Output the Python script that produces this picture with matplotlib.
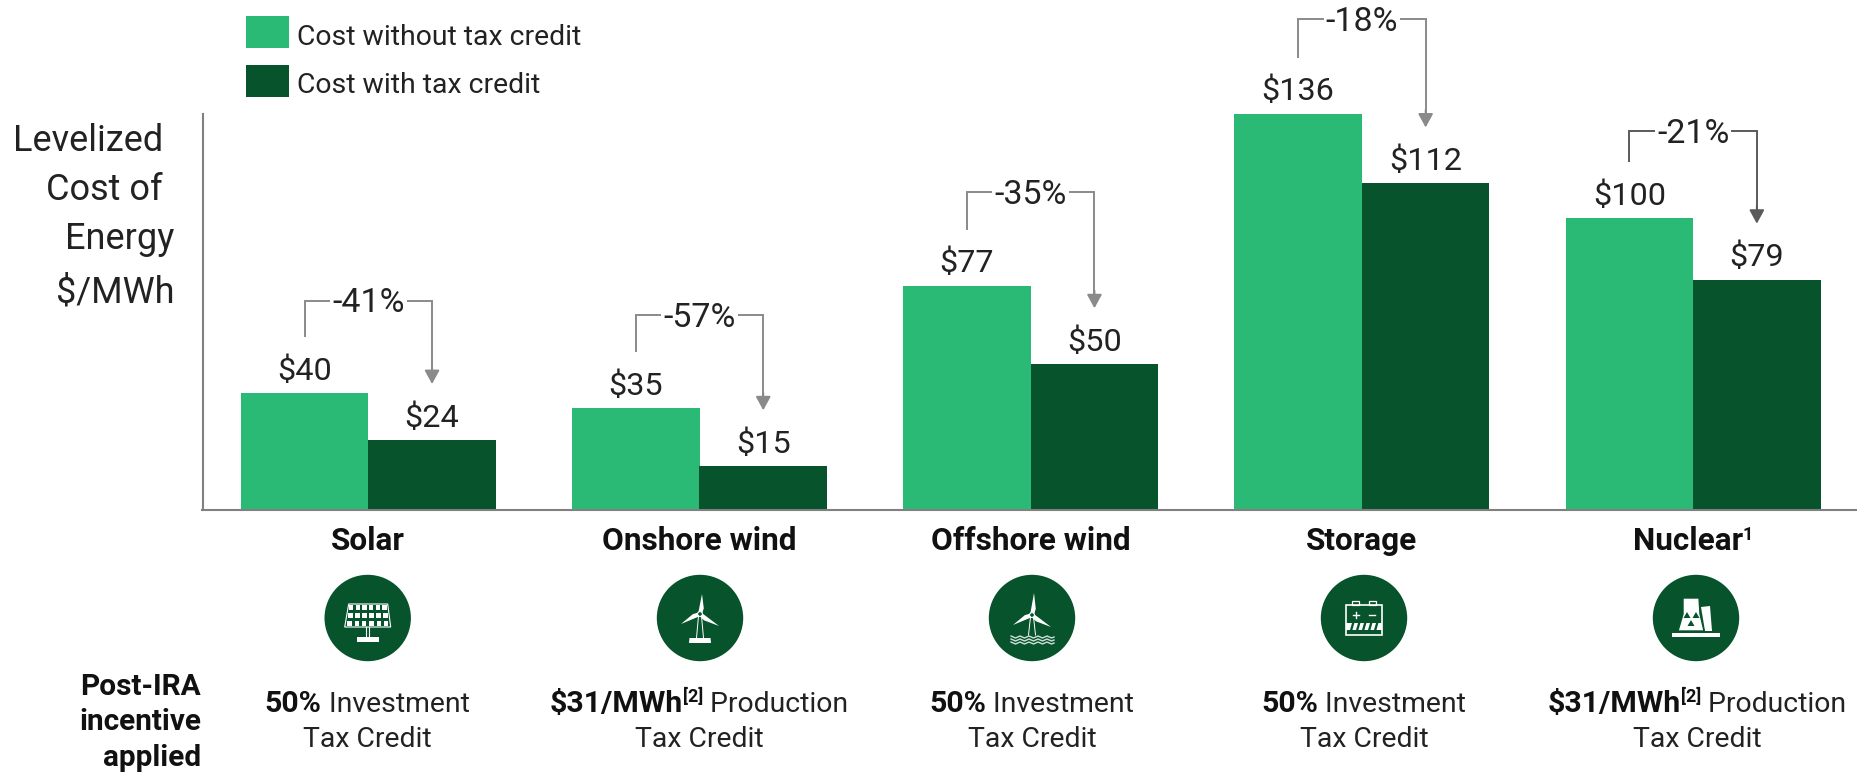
import numpy as np
import matplotlib
matplotlib.use("Agg")
import matplotlib.pyplot as plt
from matplotlib.patches import Circle, Rectangle, Polygon

categories = ["Solar", "Onshore wind", "Offshore wind", "Storage", "Nuclear"]
cost_without = [40, 35, 77, 136, 100]
cost_with = [24, 15, 50, 112, 79]
pct_change = ["-41%", "-57%", "-35%", "-18%", "-21%"]
bracket_top = [71.8, 66.8, 109, 168.4, 130]
bracket_color = ["#8a8a8a", "#8a8a8a", "#8a8a8a", "#8a8a8a", "#5a5a5a"]
incentive_lead = ["50%", "$31/MWh", "50%", "50%", "$31/MWh"]
incentive_sup = ["", "[2]", "", "", "[2]"]
incentive_tail = ["Investment", "Production", "Investment", "Investment", "Production"]
series_names = ["Cost without tax credit", "Cost with tax credit"]
ylabel_lines = ["Levelized ", "Cost of ", "Energy", "$/MWh"]
side_lines = ["Post-IRA", "incentive", "applied"]

GREEN = "#2BBA75"
DARK = "#07532C"
INK = "#222222"
FONT = "Roboto"
plt.rcParams["font.family"] = [FONT, "DejaVu Sans"]

W, H = 1857, 772
fig = plt.figure(figsize=(W / 100, H / 100), dpi=100, facecolor="white")
ax = fig.add_axes([202.5 / W, (H - 510) / H, (W - 202.5) / W, (510 - 113.5) / H])
ov = fig.add_axes([0, 0, 1, 1], zorder=5)
ov.set_xlim(0, W); ov.set_ylim(H, 0); ov.axis("off"); ov.patch.set_alpha(0)

x = np.arange(len(categories))
spacing = 331.2
x0 = (202.5 - 368.3) / spacing
x1 = (W - 368.3) / spacing
bw = 127.5 / spacing
ax.bar(x - bw / 2, cost_without, bw, color=GREEN)
ax.bar(x + bw / 2, cost_with, bw, color=DARK)
ax.set_xlim(x0, x1); ax.set_ylim(0, 136)
ax.set_xticks([]); ax.set_yticks([])
for s in ("top", "right"):
    ax.spines[s].set_visible(False)
for s in ("left", "bottom"):
    ax.spines[s].set_color("#808080"); ax.spines[s].set_linewidth(1.5)

px_per_unit = (510 - 113.5) / 136
gap = 56 / px_per_unit
for i in x:
    a, b = cost_without[i], cost_with[i]
    xa, xb = i - bw / 2, i + bw / 2
    for xx, v in ((xa, a), (xb, b)):
        ax.annotate(f"${v}", (xx, v), xytext=(0, 9.5), textcoords="offset points",
                    ha="center", va="baseline", fontsize=23.3, color=INK, annotation_clip=False)
    c = bracket_color[i]
    top = bracket_top[i]
    ax.plot([xa, xa, xb, xb], [a + gap, top, top, b + gap + 3], color=c, lw=1.4,
            clip_on=False, solid_joinstyle="miter", solid_capstyle="butt")
    ax.annotate("", xy=(xb, b + gap), xytext=(xb, b + gap + 6), annotation_clip=False,
                arrowprops=dict(arrowstyle="-|>,head_length=0.55,head_width=0.3", color=c,
                                lw=1.4, shrinkA=0, shrinkB=0, mutation_scale=15))
    ax.annotate(pct_change[i], (i, top), xytext=(0, -2), textcoords="offset points",
                ha="center", va="center", fontsize=24.5, color=INK, annotation_clip=False,
                bbox=dict(facecolor="white", edgecolor="none", pad=1.5))

def cx(i):
    return ax.transData.transform((i, 0))[0]

renderer = fig.canvas.get_renderer()

def runs(center, base, parts):
    widths = []
    arts = []
    for txt, weight, size, rise in parts:
        t = ov.text(0, base - rise, txt, fontweight=weight, fontsize=size, color=INK if weight == "normal" else "#111111",
                    ha="left", va="baseline")
        arts.append(t)
        widths.append(t.get_window_extent(renderer).width)
    pos = center - sum(widths) / 2
    for t, w in zip(arts, widths):
        t.set_x(pos)
        pos += w

# legend
for yy, col, name, base in ((16, GREEN, series_names[0], 45), (65, DARK, series_names[1], 93)):
    ov.add_patch(Rectangle((246, yy), 43, 32, fc=col, ec="none"))
    ov.text(297, base, name, fontsize=20.4, color=INK, ha="left", va="baseline")

# y title
for txt, base, right in zip(ylabel_lines, [151, 200, 249, 302], [172, 172, 174, 174]):
    ov.text(right, base, txt, fontsize=26, color=INK, ha="right", va="baseline")

# side label
for txt, base in zip(side_lines, [695, 730, 766]):
    ov.text(201, base, txt, fontsize=21.4, fontweight="bold", color="#111111", ha="right", va="baseline")

# category labels
for i, name in enumerate(categories):
    parts = [(name, "bold", 22.7, 0)]
    if name == "Nuclear":
        parts.append(("1", "bold", 13, 10))
    runs(cx(i), 550, parts)

# incentive text
inc_x = [367, 699, 1032, 1364, 1697]
for i in range(5):
    parts = [(incentive_lead[i], "bold", 21.8, 0)]
    if incentive_sup[i]:
        parts.append((incentive_sup[i], "bold", 13, 10))
    parts.append((" " + incentive_tail[i], "normal", 20.4, 0))
    runs(inc_x[i], 712, parts)
    runs(inc_x[i], 747, [("Tax Credit", "normal", 20.4, 0)])

# icons
centers = [367.7, 700, 1032, 1364, 1696]
CY = 618
for c in centers:
    ov.add_patch(Circle((c, CY), 43.2, fc=DARK, ec="none"))
WHITE = "white"

def solar(c):
    ov.add_patch(Polygon([(c - 19, CY - 14), (c + 20, CY - 14), (c + 23, CY + 9), (c - 23, CY + 9)],
                         closed=True, fc="none", ec=WHITE, lw=0.8))
    for r in range(3):
        for k in range(6):
            fx = (k + 0.5) / 6 - 0.5
            fy = (r + 0.5) / 3
            half = 19.5 + 3 * fy
            ov.add_patch(Rectangle((c + 2 * fx * half - 2.2, CY - 14 + 23 * fy - 2.4), 4.6, 4.8, fc=WHITE, ec="none"))
    ov.plot([c - 1.5, c - 1.5], [CY + 9, CY + 18], color=WHITE, lw=0.8)
    ov.plot([c + 1.5, c + 1.5], [CY + 9, CY + 18], color=WHITE, lw=0.8)
    ov.add_patch(Rectangle((c - 11, CY + 19), 22, 5, fc=WHITE, ec="none"))

def turbine(c, hub_y, top, left, right, base):
    hx, hy = c, hub_y
    for tip, w in ((top, 3.2), (left, 3.2), (right, 3.2)):
        tx, ty = c + tip[0], CY + tip[1]
        d = np.array([tx - hx, ty - hy]); n = np.array([-d[1], d[0]]) / np.hypot(*d)
        ov.add_patch(Polygon([(hx + n[0] * w * .6, hy + n[1] * w * .6), (hx + d[0] * .3 + n[0] * w, hy + d[1] * .3 + n[1] * w),
                              (tx, ty), (hx - n[0] * w * .6, hy - n[1] * w * .6)], closed=True, fc=WHITE, ec="none"))
    ov.add_patch(Circle((hx, hy), 2.4, fc=DARK, ec=WHITE, lw=0.8))
    ov.plot([c - 1.5, c - 3.5], [hy + 2, CY + base], color=WHITE, lw=0.7)
    ov.plot([c + 1.5, c + 3.5], [hy + 2, CY + base], color=WHITE, lw=0.7)

solar(centers[0])
turbine(centers[1], CY - 4, (2, -24), (-19, 6), (19, 8), 20)
ov.add_patch(Polygon([(centers[1] - 10.5, CY + 20), (centers[1] + 10.5, CY + 20), (centers[1] + 11, CY + 25), (centers[1] - 11, CY + 25)],
                     closed=True, fc=WHITE, ec="none"))
turbine(centers[2], CY - 3, (2, -25), (-19, 7), (19, 9), 17)
wx = np.array([-21, -16.5, -12, -7.5, -3, 1.5, 6, 10.5, 15, 19.5, 22])
for dy, lw in ((18, 1.0), (21, 1.0), (24, 1.0)):
    wy = CY + dy + np.array([0, 2, 0, 2, 0, 2, 0, 2, 0, 2, 1])
    ov.plot(centers[2] + wx, wy, color="#cfe0d6", lw=lw)

c = centers[3]
ov.add_patch(Rectangle((c - 18, CY - 13), 36, 30, fc="none", ec=WHITE, lw=1.2))
for dx in (-12, 5):
    ov.add_patch(Rectangle((c + dx, CY - 17), 7, 4, fc="none", ec=WHITE, lw=0.9))
ov.plot([c - 11, c - 5], [CY - 3, CY - 3], color=WHITE, lw=1)
ov.plot([c - 8, c - 8], [CY - 6, CY], color=WHITE, lw=1)
ov.plot([c + 5, c + 11], [CY - 3, CY - 3], color=WHITE, lw=1)
ov.add_patch(Rectangle((c - 18, CY + 5), 36, 7, fc=WHITE, ec="none"))
for dx in range(-14, 16, 6):
    ov.add_patch(Polygon([(c + dx, CY + 12), (c + dx + 2.4, CY + 12), (c + dx + 4.4, CY + 5), (c + dx + 2, CY + 5)], closed=True, fc=DARK, ec="none"))

c = centers[4]
ov.add_patch(Polygon([(c + 5, CY - 11), (c + 14, CY - 12), (c + 16, CY + 13), (c + 9, CY + 13)], closed=True, fc=WHITE, ec="none"))
ov.add_patch(Polygon([(c - 13, CY - 20), (c + 3, CY - 20), (c + 4, CY - 4), (c + 8, CY + 13), (c - 18, CY + 13), (c - 13, CY - 4)],
                     closed=True, fc=WHITE, ec=DARK, lw=1))
ov.add_patch(Rectangle((c - 24, CY + 15), 48, 4, fc=WHITE, ec="none"))
for dx, dy in ((-9, 0), (0, 0), (-5, 8)):
    ov.add_patch(Polygon([(c + dx, CY + dy - 6), (c + dx - 3.5, CY + dy), (c + dx + 3.5, CY + dy)], closed=True, fc=DARK, ec="none"))

fig.savefig("out.png", dpi=100)
